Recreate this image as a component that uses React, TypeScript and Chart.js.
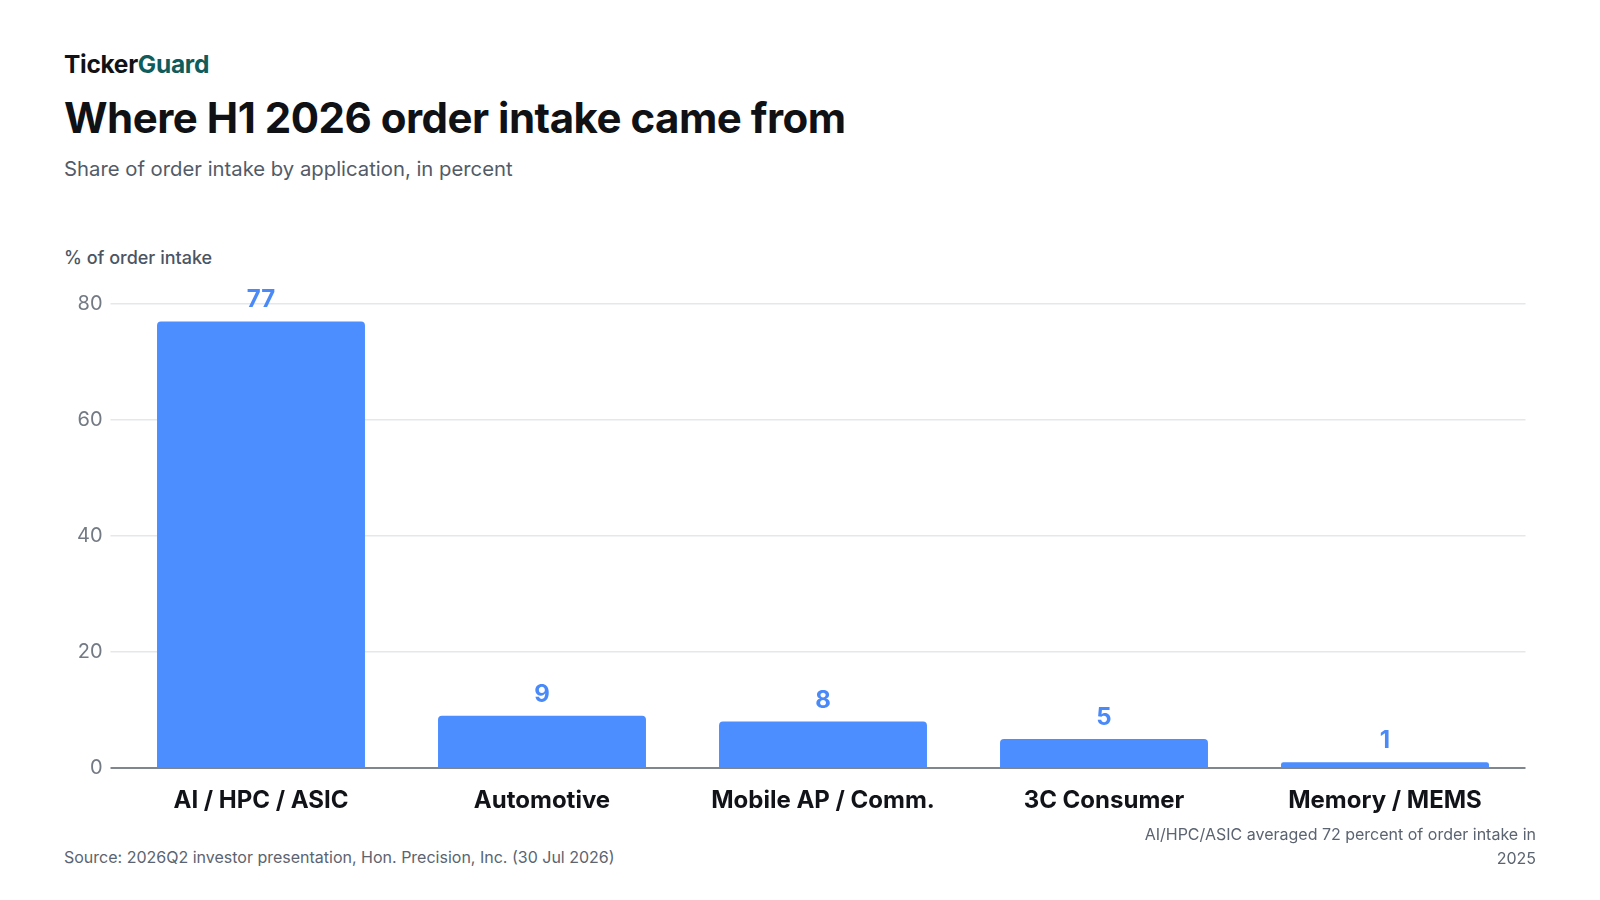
import React, { useEffect, useRef } from "react";
import { Chart, registerables } from "chart.js";

Chart.register(...registerables);

const categories = ["AI / HPC / ASIC", "Automotive", "Mobile AP / Comm.", "3C Consumer", "Memory / MEMS"];
const shareValues = [77, 9, 8, 5, 1];
const yTicks = [0, 20, 40, 60, 80];

const FONT = "Inter, 'Noto Sans', sans-serif";
const BAR_COLOR = "#4C8DFF";
const LABEL_COLOR = "#4A8AF8";

const valueLabelPlugin = {
  id: "valueLabels",
  afterDatasetsDraw(chart: any) {
    const ctx = chart.ctx;
    const meta = chart.getDatasetMeta(0);
    const data = chart.data.datasets[0].data;
    ctx.save();
    ctx.font = `700 24px ${FONT}`;
    ctx.fillStyle = LABEL_COLOR;
    ctx.textAlign = "center";
    ctx.textBaseline = "alphabetic";
    meta.data.forEach((bar: any, i: number) => {
      ctx.fillText(String(data[i]), bar.x, bar.y - 14);
    });
    ctx.restore();
  },
};

function BarChart() {
  const ref = useRef<HTMLCanvasElement | null>(null);
  useEffect(() => {
    if (!ref.current) return;
    const chart = new Chart(ref.current, {
      type: "bar",
      data: {
        labels: categories,
        datasets: [
          {
            data: shareValues,
            backgroundColor: BAR_COLOR,
            borderRadius: { topLeft: 4, topRight: 4, bottomLeft: 0, bottomRight: 0 },
            borderSkipped: "start",
            barPercentage: 0.74,
            categoryPercentage: 1,
          },
        ],
      },
      options: {
        animation: false,
        responsive: true,
        maintainAspectRatio: false,
        layout: { padding: { top: 23, right: 10.5, bottom: 0, left: 0 } },
        plugins: { legend: { display: false }, tooltip: { enabled: false } },
        scales: {
          x: {
            grid: { display: false, drawTicks: false },
            border: { display: false },
            ticks: {
              padding: 18,
              color: "#111318",
              font: { family: FONT, size: 24, weight: "bold" as any },
              maxRotation: 0,
              autoSkip: false,
            },
            afterFit: (scale: any) => {
              scale.height = 73;
            },
          },
          y: {
            min: 0,
            max: 80,
            afterBuildTicks: (scale: any) => {
              scale.ticks = yTicks.map((v) => ({ value: v }));
            },
            grid: {
              color: (c: any) => (c.tick && c.tick.value === 0 ? "#80868E" : "#E6E7EA"),
              lineWidth: (c: any) => (c.tick && c.tick.value === 0 ? 2 : 1.5),
              drawTicks: true,
              tickLength: 10,
            },
            border: { display: false },
            ticks: {
              padding: 8,
              color: "#737A84",
              font: { family: FONT, size: 20 },
            },
            afterFit: (scale: any) => {
              scale.width = 56.5;
            },
          },
        },
      },
      plugins: [valueLabelPlugin],
    });
    return () => chart.destroy();
  }, []);
  return <canvas ref={ref} />;
}

export default function App() {
  const abs = (s: React.CSSProperties): React.CSSProperties => ({ position: "absolute", ...s });
  return (
    <div
      style={{
        position: "fixed",
        left: 0,
        top: 0,
        width: 1600,
        height: 900,
        background: "#ffffff",
        fontFamily: FONT,
        overflow: "hidden",
      }}
    >
      <div style={abs({ left: 64, top: 49, fontSize: 24.5, lineHeight: "30px", fontWeight: 700, color: "#101216", letterSpacing: -0.3 })}>
        Ticker<span style={{ color: "#0E5C5C" }}>Guard</span>
      </div>
      <div style={abs({ left: 64, top: 93, fontSize: 42, lineHeight: "50px", fontWeight: 700, color: "#0F1115", letterSpacing: -0.5, whiteSpace: "nowrap" })}>
        Where H1 2026 order intake came from
      </div>
      <div style={abs({ left: 64, top: 157, fontSize: 20.3, lineHeight: "24px", fontWeight: 400, color: "#525B67", whiteSpace: "nowrap" })}>
        Share of order intake by application, in percent
      </div>
      <div style={abs({ left: 64, top: 246.5, fontSize: 18, lineHeight: "22px", fontWeight: 500, color: "#4B5563", whiteSpace: "nowrap" })}>
        % of order intake
      </div>
      <div style={abs({ left: 64, top: 281, width: 1472, height: 560 })}>
        <BarChart />
      </div>
      <div style={abs({ left: 64, top: 845, fontSize: 16, lineHeight: "24px", color: "#5B6470", whiteSpace: "nowrap" })}>
        Source: 2026Q2 investor presentation, Hon. Precision, Inc. (30 Jul 2026)
      </div>
      <div style={abs({ right: 64, top: 822, width: 420, fontSize: 16, lineHeight: "24px", color: "#5B6470", textAlign: "right" })}>
        AI/HPC/ASIC averaged 72 percent of order intake in 2025
      </div>
    </div>
  );
}
